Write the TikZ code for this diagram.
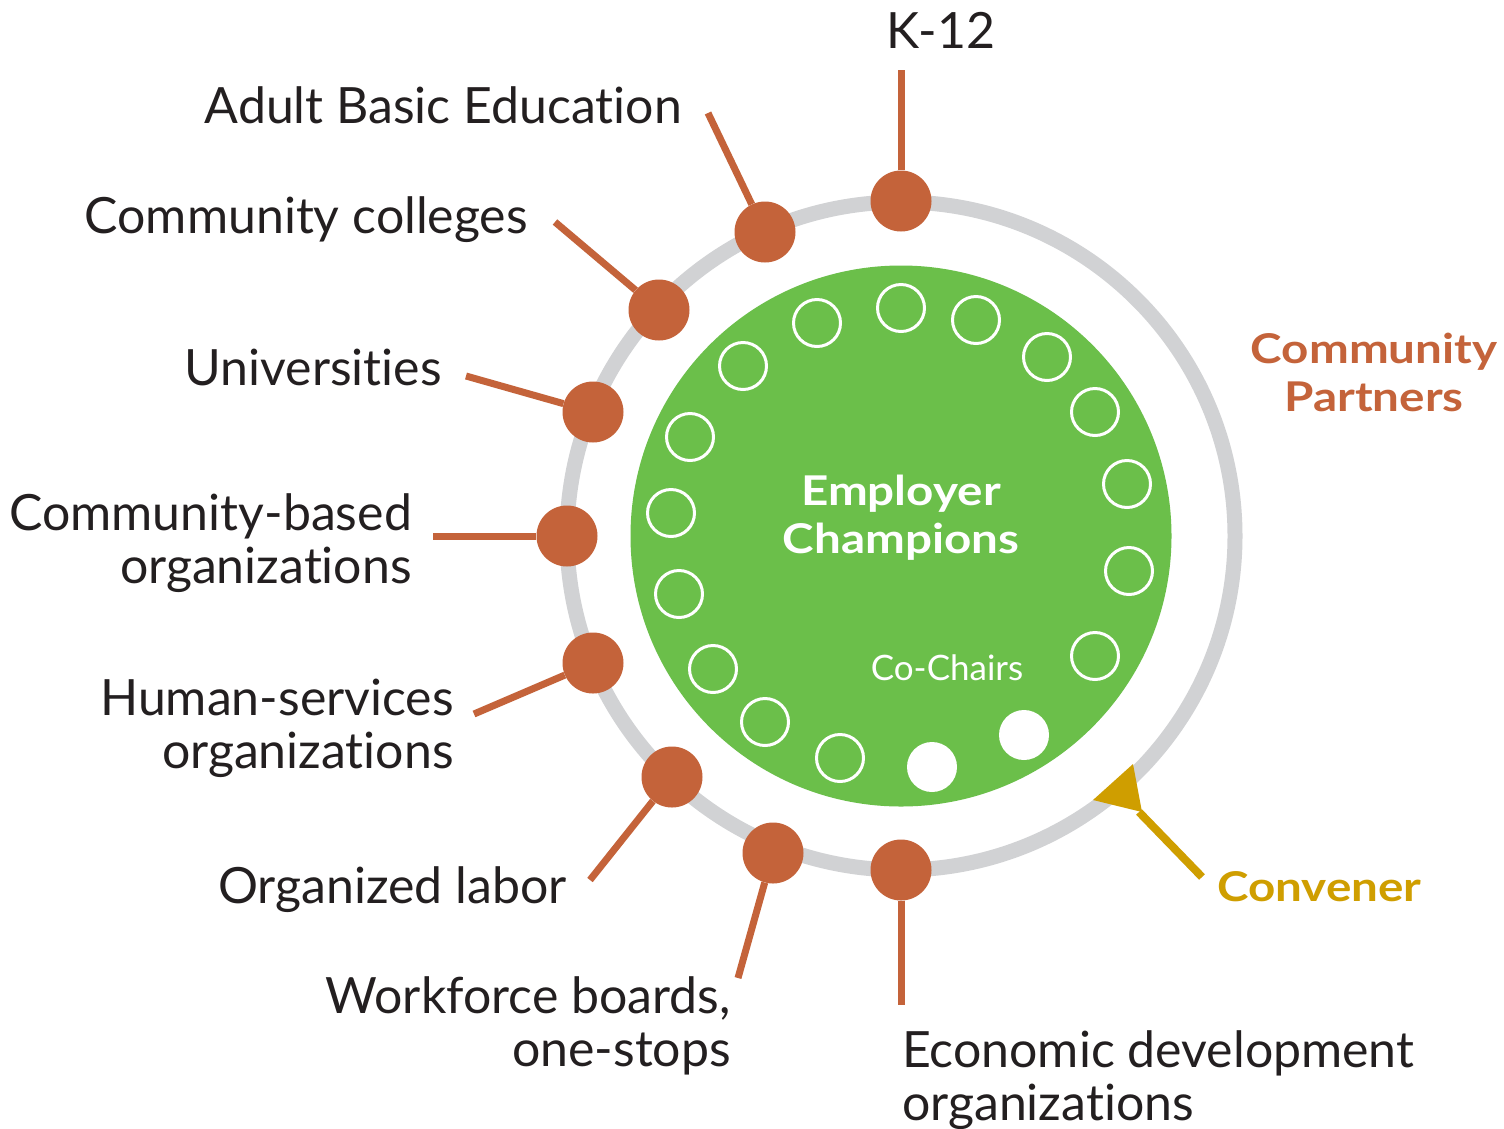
\documentclass[tikz,border=0pt]{standalone}
\usepackage{fontspec}
\setmainfont{Lato}[Ligatures=NoCommon]
\newfontfamily\widebold{Lato}[Ligatures=NoCommon, FakeStretch=1.16, UprightFont=*-Bold, BoldFont=*-Bold]
\definecolor{partner}{HTML}{C4633A}
\definecolor{champ}{HTML}{6BBF4A}
\definecolor{ringgray}{HTML}{D1D2D4}
\definecolor{gold}{HTML}{CF9E00}
\definecolor{ink}{HTML}{231F20}
\begin{document}
\begin{tikzpicture}[x=1pt,y=-1pt,
  lbl/.style={inner sep=0pt, text=ink, font=\fontsize{50}{53}\selectfont},
  title/.style={inner sep=0pt, font=\fontsize{41}{48}\selectfont\widebold},
  pdot/.style={circle, fill=partner, minimum size=61pt, inner sep=0pt},
  plink/.style={draw=partner, line width=7pt},
  seat/.style={circle, draw=white, line width=3pt, minimum size=47pt, inner sep=0pt},
  chair/.style={circle, fill=white, minimum size=50pt, inner sep=0pt},
  ]
\useasboundingbox[fill=white] (0,0) rectangle (1504,1128);
% ring and champions circle
\node (ring) [circle, draw=ringgray, line width=15pt, minimum size=668pt, inner sep=0pt] at (901,536) {};
\node (champ) [circle, fill=champ, minimum size=541pt, inner sep=0pt] at (901,536) {};
% seats
\node[seat] (s1) at (901,308) {};
\node[seat] (s2) at (976,320) {};
\node[seat] (s3) at (1047,357) {};
\node[seat] (s4) at (1095,412) {};
\node[seat] (s5) at (1127,484) {};
\node[seat] (s6) at (1129,571) {};
\node[seat] (s7) at (1095,656) {};
\node[chair] (c1) at (1024,735) {};
\node[chair] (c2) at (932,767) {};
\node[seat] (s10) at (840,758) {};
\node[seat] (s11) at (765,722) {};
\node[seat] (s12) at (713,669) {};
\node[seat] (s13) at (679,594) {};
\node[seat] (s14) at (671,513) {};
\node[seat] (s15) at (690,437) {};
\node[seat] (s16) at (743,366) {};
\node[seat] (s17) at (817,323) {};
\node (champtxt) [title, text=white, align=center, anchor=base] at (901,553) {Employer\\Champions};
\node (cochairs) [inner sep=0pt, text=white, anchor=base,
  font=\fontsize{35}{38}\selectfont] at (947,680) {Co-Chairs};
% partner dots
\node[pdot] (d1) at (901,201) {};
\node[pdot] (d2) at (765,232) {};
\node[pdot] (d3) at (659,310) {};
\node[pdot] (d4) at (593,412) {};
\node[pdot] (d5) at (567,536) {};
\node[pdot] (d6) at (593,663) {};
\node[pdot] (d7) at (672,777) {};
\node[pdot] (d8) at (773,853) {};
\node[pdot] (d9) at (901,870) {};
% link ends
\coordinate (e1) at (901,70);
\coordinate (e2) at (708,113);
\coordinate (e3) at (555,222);
\coordinate (e4) at (466,376);
\coordinate (e5) at (433,536);
\coordinate (e6) at (474,714);
\coordinate (e7) at (590,880);
\coordinate (e8) at (738,978);
\coordinate (e9) at (901,1005);
\foreach \i in {1,...,9} {\draw[plink] (d\i) -- (e\i);}
% labels
\node[lbl, anchor=base] (l1) at (941,48) {K-12};
\node[lbl, anchor=base east] (l2) at (682,123) {Adult Basic Education};
\node[lbl, anchor=base east] (l3) at (528,233) {Community colleges};
\node[lbl, anchor=base east] (l4) at (442,385) {Universities};
\node[lbl, anchor=base east, align=right] (l5) at (412,583) {Community-based\\organizations};
\node[lbl, anchor=base east, align=right] (l6) at (454,768) {Human-services\\organizations};
\node[lbl, anchor=base east] (l7) at (567,903) {Organized labor};
\node[lbl, anchor=base east, align=right] (l8) at (731,1066) {Workforce boards,\\one-stops};
\node[lbl, anchor=base west, align=left] (l9) at (902,1120) {Economic development\\organizations};
% group titles
\node (partners) [title, text=partner, align=center, anchor=base] at (1374,411) {Community\\Partners};
\node (convener) [title, text=gold, anchor=base west] at (1217,901) {Convener};
% convener marker
\coordinate (ctip) at (1139,812);
\coordinate (cend) at (1202,877);
\fill[gold] (1093,800) -- (1133,764) -- (1142,812) -- cycle;
\draw[draw=gold, line width=8pt] (cend) -- (ctip);
\end{tikzpicture}
\end{document}
